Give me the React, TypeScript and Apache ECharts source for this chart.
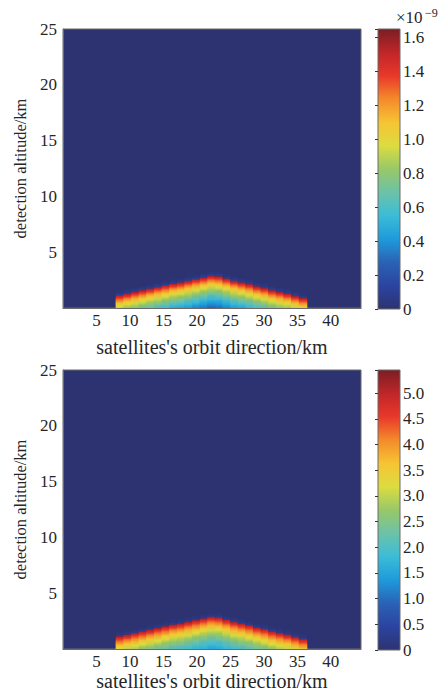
import React, { useEffect, useRef } from "react";
import * as echarts from "echarts";

// ---- data ----
const xTickValues = [5, 10, 15, 20, 25, 30, 35, 40];
const yTickValues = [5, 10, 15, 20, 25];
const xRange = [0, 44.5];
const yRange = [0, 25];

// terrain-like cells: column start (km), column width (km), layer thickness (km)
const firstColumnKm = 7.9;
const columnWidthKm = 1.14;
const layerThicknessKm = 0.1;
const surfaceHeightKm = [
  1.2, 1.35, 1.5, 1.65, 1.8, 1.95, 2.1, 2.25, 2.35, 2.5, 2.65, 2.8, 2.95,
  2.9, 2.7, 2.5, 2.35, 2.2, 2.0, 1.85, 1.65, 1.5, 1.35, 1.15, 0.95,
];

// value vs depth below the surface (one entry per 0.1 km layer)
const topDepthProfile = [
  1.62, 1.52, 1.44, 1.37, 1.3, 1.24, 1.18, 1.12, 1.07, 1.02, 0.98, 0.93, 0.89,
  0.85, 0.81, 0.77, 0.73, 0.69, 0.65, 0.61, 0.58, 0.54, 0.51, 0.47, 0.44, 0.41,
  0.38, 0.35, 0.32, 0.29,
];
const topHaloProfile = [0.12, 0.07, 0.04];
const bottomDepthProfile = [
  5.35, 5.05, 4.8, 4.6, 4.4, 4.2, 4.05, 3.9, 3.75, 3.6, 3.45, 3.3, 3.18, 3.06,
  2.94, 2.82, 2.7, 2.6, 2.5, 2.4, 2.3, 2.2, 2.1, 2.02, 1.94, 1.86, 1.78, 1.7,
  1.62, 1.55,
];
const bottomHaloProfile = [0.35, 0.2, 0.1];

const topMax = 1.65;
const topColorbarTicks = [0, 0.2, 0.4, 0.6, 0.8, 1.0, 1.2, 1.4, 1.6];
const bottomMax = 5.45;
const bottomColorbarTicks = [0, 0.5, 1.0, 1.5, 2.0, 2.5, 3.0, 3.5, 4.0, 4.5, 5.0];

const colormap = [
  "#2d3370", "#2b44a0", "#2a62b6", "#1f9ada", "#3cbcd8", "#6cc2a8", "#98c868",
  "#dcdc40", "#f6c434", "#f48a2a", "#e9382a", "#bf2628", "#7a1e24",
];

const xTitle = "satellites's orbit direction/km";
const yTitle = "detection altitude/km";

// ---- helpers ----
const FONT = "'Liberation Serif', 'Times New Roman', serif";
const TEXT = "#262626";

function buildCells(profile: number[], halo: number[]) {
  const cells: number[][] = [];
  surfaceHeightKm.forEach((h, i) => {
    const x0 = firstColumnKm + i * columnWidthKm;
    const x1 = x0 + columnWidthKm;
    for (let k = 0; k < profile.length; k++) {
      const top = h - k * layerThicknessKm;
      if (top <= 0) break;
      const bottom = Math.max(0, top - layerThicknessKm);
      cells.push([x0, x1, bottom, top, profile[k]]);
    }
    halo.forEach((v, k) => {
      const bottom = h + k * layerThicknessKm;
      cells.push([x0, x1, bottom, bottom + layerThicknessKm, v]);
    });
  });
  return cells;
}

function near(list: number[], v: number) {
  return list.some((t) => Math.abs(t - v) < 1e-6);
}

const cellRender = (params: any, api: any) => {
  const p0 = api.coord([api.value(0), api.value(3)]);
  const p1 = api.coord([api.value(1), api.value(2)]);
  const c = api.visual("color");
  return {
    type: "rect",
    shape: { x: p0[0], y: p0[1], width: p1[0] - p0[0] + 0.3, height: p1[1] - p0[1] + 0.4 },
    style: { fill: c, stroke: c, lineWidth: 0.4 },
  };
};

const colorbarRender = (params: any, api: any) => {
  const p0 = api.coord([0, api.value(1)]);
  const p1 = api.coord([1, 0]);
  const stops = colormap.map((c, i) => ({ offset: i / (colormap.length - 1), color: c }));
  return {
    type: "rect",
    shape: { x: p0[0], y: p0[1], width: p1[0] - p0[0], height: p1[1] - p0[1] },
    style: {
      fill: new echarts.graphic.LinearGradient(0, 1, 0, 0, stops),
      stroke: "#6b6b6b",
      lineWidth: 1,
    },
  };
};

function mainX(gridIndex: number, nameGap: number) {
  return {
    type: "value",
    gridIndex,
    min: xRange[0],
    max: xRange[1],
    interval: 5,
    z: 10,
    name: xTitle,
    nameLocation: "middle",
    nameGap,
    nameTextStyle: { fontFamily: FONT, fontSize: 20, color: TEXT },
    axisLine: { show: true, onZero: false, lineStyle: { color: "#6b6b6b", width: 1 } },
    axisTick: { show: false },
    splitLine: { show: false },
    axisLabel: {
      margin: 4,
      fontFamily: FONT,
      fontSize: 17,
      color: TEXT,
      showMinLabel: true,
      showMaxLabel: true,
      formatter: (v: number) => (near(xTickValues, v) ? String(v) : ""),
    },
  };
}

function mainY(gridIndex: number) {
  return {
    type: "value",
    gridIndex,
    min: yRange[0],
    max: yRange[1],
    interval: 5,
    z: 10,
    name: yTitle,
    nameLocation: "middle",
    nameGap: 32,
    nameTextStyle: { fontFamily: FONT, fontSize: 16.5, color: TEXT },
    axisLine: { show: true, lineStyle: { color: "#6b6b6b", width: 1 } },
    axisTick: { show: false },
    splitLine: { show: false },
    axisLabel: {
      margin: 6,
      fontFamily: FONT,
      fontSize: 17,
      color: TEXT,
      formatter: (v: number) => (near(yTickValues, v) ? String(v) : ""),
    },
  };
}

function cbX(gridIndex: number) {
  return { type: "value", gridIndex, min: 0, max: 1, show: false };
}

function cbY(gridIndex: number, max: number, interval: number, ticks: number[], shift: number) {
  return {
    type: "value",
    gridIndex,
    position: "right",
    min: 0,
    max,
    interval,
    z: 10,
    axisLine: { show: false },
    splitLine: { show: false },
    axisTick: { show: true, inside: true, length: 3, lineStyle: { color: "#333" } },
    axisLabel: {
      margin: 3,
      fontFamily: FONT,
      fontSize: 17,
      color: TEXT,
      padding: [shift, 0, 0, 0],
      formatter: (v: number) =>
        near(ticks, v) ? (Math.abs(v) < 1e-9 ? "0" : v.toFixed(1)) : "",
    },
  };
}

export default function App() {
  const ref = useRef<HTMLDivElement>(null);

  useEffect(() => {
    if (!ref.current) return;
    const chart = echarts.init(ref.current, undefined, { renderer: "svg" });

    const topCells = buildCells(topDepthProfile, topHaloProfile);
    const bottomCells = buildCells(bottomDepthProfile, bottomHaloProfile);

    const option: any = {
      animation: false,
      backgroundColor: "#ffffff",
      grid: [
        { left: 63, top: 29, width: 298, height: 279, show: true, backgroundColor: colormap[0], borderColor: "#6b6b6b", borderWidth: 1 },
        { left: 378, top: 29, width: 22, height: 280 },
        { left: 63, top: 370, width: 298, height: 279, show: true, backgroundColor: colormap[0], borderColor: "#6b6b6b", borderWidth: 1 },
        { left: 378, top: 370, width: 22, height: 280 },
      ],
      xAxis: [mainX(0, 29), cbX(1), mainX(2, 19), cbX(3)],
      yAxis: [
        mainY(0),
        cbY(1, topMax, 0.2, topColorbarTicks, 9),
        mainY(2),
        cbY(3, bottomMax, 0.5, bottomColorbarTicks, 0),
      ],
      visualMap: [
        { type: "continuous", show: false, seriesIndex: 0, dimension: 4, min: 0, max: topMax, inRange: { color: colormap } },
        { type: "continuous", show: false, seriesIndex: 2, dimension: 4, min: 0, max: bottomMax, inRange: { color: colormap } },
      ],
      series: [
        { type: "custom", xAxisIndex: 0, yAxisIndex: 0, renderItem: cellRender, encode: { x: [0, 1], y: [2, 3] }, data: topCells, z: 2 },
        { type: "custom", xAxisIndex: 1, yAxisIndex: 1, renderItem: colorbarRender, encode: { x: [0], y: [1] }, data: [[0, topMax]], z: 2 },
        { type: "custom", xAxisIndex: 2, yAxisIndex: 2, renderItem: cellRender, encode: { x: [0, 1], y: [2, 3] }, data: bottomCells, z: 2 },
        { type: "custom", xAxisIndex: 3, yAxisIndex: 3, renderItem: colorbarRender, encode: { x: [0], y: [1] }, data: [[0, bottomMax]], z: 2 },
      ],
      graphic: [
        { type: "text", x: 396, y: 9, style: { text: "×10", fontFamily: FONT, fontSize: 17, fill: TEXT, verticalAlign: "top" } },
        { type: "text", x: 425, y: 7, style: { text: "−9", fontFamily: FONT, fontSize: 12, fill: TEXT, verticalAlign: "top" } },
      ],
    };

    chart.setOption(option);
    return () => chart.dispose();
  }, []);

  return (
    <div
      ref={ref}
      style={{ position: "absolute", left: 0, top: 0, width: 442, height: 694 }}
    />
  );
}
